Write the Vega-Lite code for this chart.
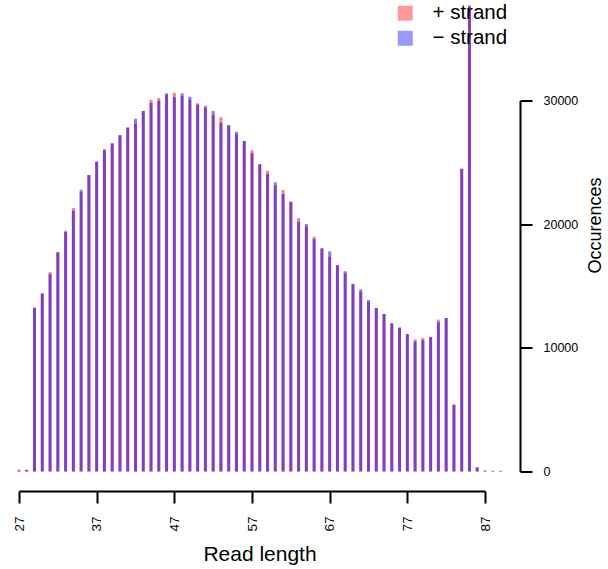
{
  "$schema": "https://vega.github.io/schema/vega-lite/v6.json",
  "autosize": {"type": "none"},
  "width": 466,
  "height": 371,
  "padding": {"left": 19, "top": 100.5, "right": 123, "bottom": 97.5},
  "background": "white",
  "config": {
    "view": {"stroke": null},
    "font": "Liberation Sans",
    "axis": {"grid": false, "domainColor": "black", "tickColor": "black", "labelColor": "black", "titleColor": "black", "titleFontWeight": "normal"}
  },
  "data": {
    "values": [
      {"len": 27, "strand": "+ strand", "n": 150},
      {"len": 28, "strand": "+ strand", "n": 130},
      {"len": 29, "strand": "+ strand", "n": 13250},
      {"len": 30, "strand": "+ strand", "n": 14380},
      {"len": 31, "strand": "+ strand", "n": 16130},
      {"len": 32, "strand": "+ strand", "n": 17720},
      {"len": 33, "strand": "+ strand", "n": 19470},
      {"len": 34, "strand": "+ strand", "n": 21310},
      {"len": 35, "strand": "+ strand", "n": 22580},
      {"len": 36, "strand": "+ strand", "n": 23970},
      {"len": 37, "strand": "+ strand", "n": 25050},
      {"len": 38, "strand": "+ strand", "n": 26080},
      {"len": 39, "strand": "+ strand", "n": 26540},
      {"len": 40, "strand": "+ strand", "n": 27190},
      {"len": 41, "strand": "+ strand", "n": 27860},
      {"len": 42, "strand": "+ strand", "n": 28120},
      {"len": 43, "strand": "+ strand", "n": 29150},
      {"len": 44, "strand": "+ strand", "n": 30060},
      {"len": 45, "strand": "+ strand", "n": 30200},
      {"len": 46, "strand": "+ strand", "n": 30440},
      {"len": 47, "strand": "+ strand", "n": 30630},
      {"len": 48, "strand": "+ strand", "n": 30360},
      {"len": 49, "strand": "+ strand", "n": 30100},
      {"len": 50, "strand": "+ strand", "n": 29770},
      {"len": 51, "strand": "+ strand", "n": 29390},
      {"len": 52, "strand": "+ strand", "n": 28830},
      {"len": 53, "strand": "+ strand", "n": 28640},
      {"len": 54, "strand": "+ strand", "n": 27990},
      {"len": 55, "strand": "+ strand", "n": 27270},
      {"len": 56, "strand": "+ strand", "n": 26720},
      {"len": 57, "strand": "+ strand", "n": 25970},
      {"len": 58, "strand": "+ strand", "n": 24840},
      {"len": 59, "strand": "+ strand", "n": 24320},
      {"len": 60, "strand": "+ strand", "n": 23140},
      {"len": 61, "strand": "+ strand", "n": 22760},
      {"len": 62, "strand": "+ strand", "n": 21820},
      {"len": 63, "strand": "+ strand", "n": 20500},
      {"len": 64, "strand": "+ strand", "n": 19800},
      {"len": 65, "strand": "+ strand", "n": 18990},
      {"len": 66, "strand": "+ strand", "n": 18040},
      {"len": 67, "strand": "+ strand", "n": 17370},
      {"len": 68, "strand": "+ strand", "n": 16700},
      {"len": 69, "strand": "+ strand", "n": 16020},
      {"len": 70, "strand": "+ strand", "n": 15160},
      {"len": 71, "strand": "+ strand", "n": 14540},
      {"len": 72, "strand": "+ strand", "n": 13710},
      {"len": 73, "strand": "+ strand", "n": 13220},
      {"len": 74, "strand": "+ strand", "n": 12740},
      {"len": 75, "strand": "+ strand", "n": 11980},
      {"len": 76, "strand": "+ strand", "n": 11630},
      {"len": 77, "strand": "+ strand", "n": 11120},
      {"len": 78, "strand": "+ strand", "n": 10690},
      {"len": 79, "strand": "+ strand", "n": 10800},
      {"len": 80, "strand": "+ strand", "n": 10870},
      {"len": 81, "strand": "+ strand", "n": 12280},
      {"len": 82, "strand": "+ strand", "n": 12410},
      {"len": 83, "strand": "+ strand", "n": 5400},
      {"len": 84, "strand": "+ strand", "n": 24490},
      {"len": 85, "strand": "+ strand", "n": 37700},
      {"len": 86, "strand": "+ strand", "n": 340},
      {"len": 87, "strand": "+ strand", "n": 70},
      {"len": 88, "strand": "+ strand", "n": 50},
      {"len": 89, "strand": "+ strand", "n": 50},
      {"len": 27, "strand": "− strand", "n": 60},
      {"len": 28, "strand": "− strand", "n": 130},
      {"len": 29, "strand": "− strand", "n": 13240},
      {"len": 30, "strand": "− strand", "n": 14420},
      {"len": 31, "strand": "− strand", "n": 15950},
      {"len": 32, "strand": "− strand", "n": 17740},
      {"len": 33, "strand": "− strand", "n": 19370},
      {"len": 34, "strand": "− strand", "n": 21090},
      {"len": 35, "strand": "− strand", "n": 22790},
      {"len": 36, "strand": "− strand", "n": 23980},
      {"len": 37, "strand": "− strand", "n": 25050},
      {"len": 38, "strand": "− strand", "n": 25970},
      {"len": 39, "strand": "− strand", "n": 26530},
      {"len": 40, "strand": "− strand", "n": 27180},
      {"len": 41, "strand": "− strand", "n": 27780},
      {"len": 42, "strand": "− strand", "n": 28530},
      {"len": 43, "strand": "− strand", "n": 29150},
      {"len": 44, "strand": "− strand", "n": 29800},
      {"len": 45, "strand": "− strand", "n": 29980},
      {"len": 46, "strand": "− strand", "n": 30580},
      {"len": 47, "strand": "− strand", "n": 30260},
      {"len": 48, "strand": "− strand", "n": 30580},
      {"len": 49, "strand": "− strand", "n": 30310},
      {"len": 50, "strand": "− strand", "n": 29660},
      {"len": 51, "strand": "− strand", "n": 29580},
      {"len": 52, "strand": "− strand", "n": 29150},
      {"len": 53, "strand": "− strand", "n": 28200},
      {"len": 54, "strand": "− strand", "n": 28000},
      {"len": 55, "strand": "− strand", "n": 27480},
      {"len": 56, "strand": "− strand", "n": 26730},
      {"len": 57, "strand": "− strand", "n": 25730},
      {"len": 58, "strand": "− strand", "n": 24850},
      {"len": 59, "strand": "− strand", "n": 24060},
      {"len": 60, "strand": "− strand", "n": 23380},
      {"len": 61, "strand": "− strand", "n": 22440},
      {"len": 62, "strand": "− strand", "n": 21810},
      {"len": 63, "strand": "− strand", "n": 20200},
      {"len": 64, "strand": "− strand", "n": 20010},
      {"len": 65, "strand": "− strand", "n": 18800},
      {"len": 66, "strand": "− strand", "n": 18050},
      {"len": 67, "strand": "− strand", "n": 17800},
      {"len": 68, "strand": "− strand", "n": 16690},
      {"len": 69, "strand": "− strand", "n": 16190},
      {"len": 70, "strand": "− strand", "n": 15170},
      {"len": 71, "strand": "− strand", "n": 14730},
      {"len": 72, "strand": "− strand", "n": 13870},
      {"len": 73, "strand": "− strand", "n": 13220},
      {"len": 74, "strand": "− strand", "n": 12730},
      {"len": 75, "strand": "− strand", "n": 11990},
      {"len": 76, "strand": "− strand", "n": 11640},
      {"len": 77, "strand": "− strand", "n": 11110},
      {"len": 78, "strand": "− strand", "n": 10500},
      {"len": 79, "strand": "− strand", "n": 10630},
      {"len": 80, "strand": "− strand", "n": 10880},
      {"len": 81, "strand": "− strand", "n": 12060},
      {"len": 82, "strand": "− strand", "n": 12420},
      {"len": 83, "strand": "− strand", "n": 5410},
      {"len": 84, "strand": "− strand", "n": 24480},
      {"len": 85, "strand": "− strand", "n": 37600},
      {"len": 86, "strand": "− strand", "n": 330},
      {"len": 87, "strand": "− strand", "n": 70},
      {"len": 88, "strand": "− strand", "n": 50},
      {"len": 89, "strand": "− strand", "n": 50}
    ]
  },
  "mark": {"type": "bar", "size": 3, "opacity": 0.5},
  "encoding": {
    "x": {
      "field": "len",
      "type": "quantitative",
      "scale": {"domain": [27, 87], "nice": false, "zero": false, "padding": 0},
      "axis": {
        "values": [27, 37, 47, 57, 67, 77, 87],
        "offset": 19.5,
        "domainWidth": 2,
        "tickWidth": 2,
        "tickSize": 12,
        "labelAngle": 270,
        "labelFontSize": 13.5,
        "labelPadding": 13,
        "title": "Read length",
        "titleFontSize": 21,
        "titleX": 240.5,
        "titleY": 69,
        "titleAnchor": null,
        "titleAlign": "center",
        "titleBaseline": "alphabetic"
      }
    },
    "y": {
      "field": "n",
      "type": "quantitative",
      "stack": null,
      "scale": {"domain": [0, 30000], "nice": false},
      "axis": {
        "orient": "right",
        "values": [0, 10000, 20000, 30000],
        "format": "d",
        "offset": 35,
        "domainWidth": 2,
        "tickWidth": 2,
        "tickSize": 12,
        "labelFontSize": 12.5,
        "labelPadding": 11,
        "title": "Occurences",
        "titleFontSize": 18,
        "titleAngle": 270,
        "titleX": 75,
        "titleY": 124.5,
        "titleAlign": "center",
        "titleBaseline": "middle"
      }
    },
    "color": {
      "field": "strand",
      "type": "nominal",
      "sort": ["+ strand", "− strand"],
      "scale": {"domain": ["+ strand", "− strand"], "range": ["#ff0000", "#0000ff"]},
      "legend": {
        "title": null,
        "orient": "none",
        "legendX": 376,
        "legendY": -97.5,
        "symbolType": "square",
        "symbolSize": 225,
        "symbolOpacity": 0.4,
        "symbolStrokeWidth": 0,
        "labelFontSize": 20.5,
        "labelColor": "black",
        "labelOffset": 17,
        "rowPadding": 4
      }
    },
    "order": {"field": "strand", "sort": "ascending"}
  }
}
